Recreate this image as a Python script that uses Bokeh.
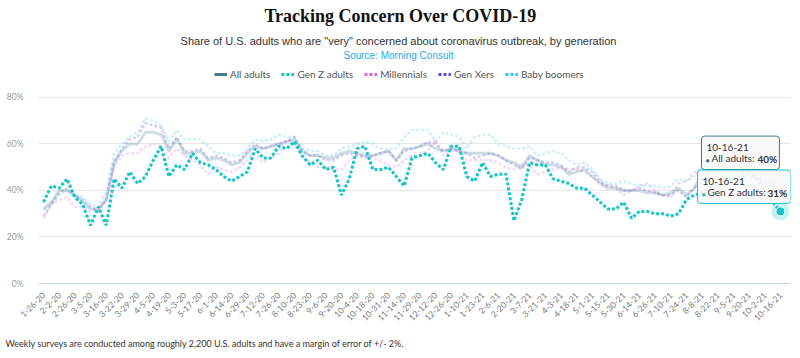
import math
from bokeh.plotting import figure
from bokeh.models import Range1d, FixedTicker, PrintfTickFormatter, Legend, LegendItem, Label, Title
from bokeh.embed import file_html
from bokeh.resources import INLINE

# ---------------- data ----------------
tick_labels = ["1-26-20", "2-2-20", "2-26-20", "3-5-20", "3-16-20", "3-22-20", "3-29-20", "4-5-20",
               "4-19-20", "5-3-20", "5-17-20", "6-1-20", "6-14-20", "6-29-20", "7-12-20", "7-26-20",
               "8-10-20", "8-23-20", "9-6-20", "9-20-20", "10-4-20", "10-18-20", "10-31-20", "11-14-20",
               "11-29-20", "12-12-20", "12-26-20", "1-10-21", "1-23-21", "2-6-21", "2-20-21", "3-7-21",
               "3-21-21", "4-3-21", "4-18-21", "5-1-21", "5-15-21", "5-30-21", "6-14-21", "6-26-21",
               "7-10-21", "7-24-21", "8-8-21", "8-22-21", "9-5-21", "9-20-21", "10-2-21", "10-16-21"]

all_adults = [32, 35, 40, 40, 38, 35, 32, 32, 36, 52, 57, 60, 60, 65, 65, 64, 57, 62, 56, 56,
              57, 53, 54, 53, 51, 52, 56, 59, 58, 59, 60, 61, 62, 57, 55, 55, 54, 54, 56, 57,
              56, 55, 55, 56, 57, 53, 58, 58, 59, 60, 58, 57, 58, 57, 56, 56, 56, 56, 55, 53,
              52, 50, 55, 53, 51, 51, 50, 47, 48, 49, 46, 43, 41, 41, 40, 40, 40, 39, 39, 38,
              39, 41, 38, 41, 47, 50, 51, 50, 51, 50, 48, 46, 44, 42, 40]

gen_z = [35, 42, 41, 45, 37, 34, 25, 33, 25, 45, 41, 48, 43, 46, 53, 59, 46, 51, 49, 56,
         52, 51, 49, 46, 44, 46, 48, 58, 54, 54, 59, 58, 61, 55, 51, 53, 49, 50, 38, 45,
         58, 59, 49, 49, 50, 46, 42, 54, 55, 56, 52, 49, 59, 59, 46, 44, 52, 46, 47, 47,
         27, 36, 52, 51, 51, 45, 44, 43, 41, 41, 38, 35, 32, 32, 35, 28, 31, 31, 30, 30,
         29, 30, 36, 38, 39, 41, 43, 44, 45, 46, 47, 45, 40, 35, 31]

millennials = [28, 34, 36, 37, 33, 33, 31, 32, 36, 50, 55, 56, 56, 59, 60, 59, 54, 58, 55, 53,
               51, 47, 50, 49, 48, 50, 53, 56, 52, 54, 56, 62, 60, 54, 52, 50, 50, 49, 49, 53,
               55, 55, 54, 53, 51, 50, 53, 55, 56, 57, 62, 55, 58, 57, 53, 53, 53, 53, 52, 50,
               49, 51, 51, 47, 48, 49, 50, 49, 49, 48, 46, 43, 42, 41, 38, 40, 42, 43, 40, 38,
               37, 43, 44, 48, 48, 46, 45, 45, 44, 42, 40, 38, 37, 36, 35]

gen_x = [29, 34, 39, 41, 38, 36, 33, 31, 36, 52, 58, 62, 63, 69, 68, 67, 58, 63, 57, 57,
         58, 54, 55, 54, 52, 53, 57, 60, 58, 59, 60, 61, 63, 57, 55, 55, 53, 53, 55, 56,
         55, 54, 55, 56, 57, 53, 57, 58, 59, 61, 60, 57, 58, 57, 56, 54, 55, 56, 55, 53,
         51, 49, 54, 53, 52, 52, 51, 48, 50, 50, 48, 44, 42, 42, 40, 40, 41, 40, 39, 38,
         38, 40, 37, 41, 45, 48, 49, 48, 49, 48, 46, 45, 44, 42, 41]

boomers = [32, 34, 38, 40, 38, 37, 34, 33, 40, 56, 60, 63, 65, 71, 70, 68, 61, 66, 62, 62,
           62, 59, 56, 56, 55, 55, 58, 62, 61, 62, 64, 63, 63, 58, 57, 57, 55, 55, 58, 59,
           60, 61, 60, 58, 58, 58, 63, 66, 66, 66, 61, 65, 64, 63, 58, 63, 64, 64, 60, 59,
           58, 58, 59, 55, 56, 57, 56, 53, 51, 52, 49, 45, 43, 43, 44, 43, 42, 42, 42, 41,
           42, 45, 44, 46, 50, 52, 54, 53, 54, 53, 51, 49, 46, 44, 42]

series_names = ["All adults", "Gen Z adults", "Millennials", "Gen Xers", "Baby boomers"]
series_values = [all_adults, gen_z, millennials, gen_x, boomers]

title_text = "Tracking Concern Over COVID-19"
subtitle_text = 'Share of U.S. adults who are "very" concerned about coronavirus outbreak, by generation'
source_text = "Source: Morning Consult"
footer_text = "Weekly surveys are conducted among roughly 2,200 U.S. adults and have a margin of error of +/- 2%."

# ---------------- styles ----------------
colors = ["#3f7b88", "#14c6c8", "#d866e0", "#5a50e0", "#36c2f2"]
dashes = ["solid", "3 2", "3 2", "3 2", "3 2"]
FONT = "Lato"

x = list(range(len(gen_z)))
tick_pos = x[::2]
overrides = {t: lab for t, lab in zip(tick_pos, tick_labels)}

# frame: left 38, right 790, top 0, bottom 283 (0% line); 80% at y=97
p = figure(width=800, height=358, output_backend="svg", toolbar_location=None,
           x_range=Range1d(-0.64, 95.28), y_range=Range1d(0, 121.7),
           min_border_left=38, min_border_right=10, min_border_top=0, min_border_bottom=75)
p.outline_line_color = None
p.background_fill_color = "white"
p.border_fill_color = "white"

p.xgrid.grid_line_color = None
p.ygrid.grid_line_color = "#e6e6e6"
p.ygrid.grid_line_width = 1

p.yaxis.ticker = FixedTicker(ticks=[0, 20, 40, 60, 80])
p.yaxis.formatter = PrintfTickFormatter(format="%d%%")
p.yaxis.axis_line_color = None
p.yaxis.major_tick_line_color = None
p.yaxis.minor_tick_line_color = None
p.yaxis.major_label_text_font = FONT
p.yaxis.major_label_text_font_size = "8.5px"
p.yaxis.major_label_text_color = "#999999"
p.yaxis.major_label_standoff = 9

p.xaxis.ticker = FixedTicker(ticks=tick_pos)
p.xaxis.major_label_overrides = overrides
p.xaxis.major_label_orientation = math.pi / 4
p.xaxis.axis_line_color = "#ccd6eb"
p.xaxis.major_tick_line_color = None
p.xaxis.minor_tick_line_color = None
p.xaxis.major_label_text_font = FONT
p.xaxis.major_label_text_font_size = "8.5px"
p.xaxis.major_label_text_color = "#777777"
p.xaxis.major_label_standoff = 4

# faded (inactive) series first, Gen Z on top
for i in [0, 2, 3, 4]:
    p.line(x, series_values[i], line_color=colors[i], line_width=3 if i == 0 else 2.5,
           line_alpha=0.25, line_dash=dashes[i], line_cap="butt", line_join="round")
p.line(x, gen_z, line_color=colors[1], line_width=3, line_dash=dashes[1], line_cap="butt")

# legend proxies (full colour, hidden)
items = []
for name, vals, c, d in zip(series_names, series_values, colors, dashes):
    r = p.line(x, vals, line_color=c, line_width=3, line_dash=d, visible=False)
    items.append(LegendItem(label=name, renderers=[r]))
legend = Legend(items=items, orientation="horizontal", location=(176, 203),
                spacing=11, label_standoff=3, glyph_width=13, glyph_height=12, label_height=12,
                padding=0, margin=0, border_line_alpha=0, background_fill_alpha=0,
                inactive_fill_alpha=0, label_text_font=FONT, label_text_font_size="10px",
                label_text_color="#555555")
p.add_layout(legend, "center")

# hover highlight on last Gen Z point
last = x[-1]
p.scatter([last], [gen_z[-1]], size=18, fill_color=colors[1], fill_alpha=0.25, line_color=None)
p.scatter([last], [gen_z[-1]], size=9, fill_color=colors[1], line_color="white", line_width=1)

# tooltips
def tooltip(yval, name, col, dx, dy, vdx, vdy):
    box = Label(x=last, y=yval, x_offset=dx, y_offset=dy,
                text=tick_labels[-1] + "\n\u2002" + name + ":" + "\u2002" * 4,
                text_align="left", text_baseline="bottom", text_font=FONT,
                text_font_size="10px", text_color="#333333", text_line_height=0.95,
                background_fill_color="#f8f8f8", background_fill_alpha=0.92,
                border_line_color=col, border_line_width=1, padding=5, border_radius=3)
    p.add_layout(box)
    p.add_layout(Label(x=last, y=yval, x_offset=dx + 4, y_offset=vdy + 1, text="\u25cf",
                       text_align="left", text_baseline="bottom", text_font=FONT,
                       text_font_size="7px", text_color=col))
    p.add_layout(Label(x=last, y=yval, x_offset=vdx, y_offset=vdy, text=f"{yval}%",
                       text_align="left", text_baseline="bottom", text_font=FONT,
                       text_font_size="10px", text_font_style="bold", text_color="#333333"))

tooltip(all_adults[-1], series_names[0], colors[0], -79, 21, -23, 25)
tooltip(gen_z[-1], series_names[1], colors[1], -83, 8, -13, 12)

# titles (screen units relative to plot frame)
def text_label(xs, ys, txt, font, size, color, style="normal", align="center"):
    p.add_layout(Label(x=xs, y=ys, x_units="screen", y_units="screen", text=txt,
                       text_font=font, text_font_size=size, text_color=color,
                       text_font_style=style, text_align=align, text_baseline="middle"))

text_label(362, 268, title_text, "Liberation Serif", "18px", "#111111", style="bold")
text_label(360, 243, subtitle_text, "Liberation Sans", "11px", "#333333")
text_label(360, 228, source_text, "Liberation Sans", "10px", "#2aa7df")

footer = Title(text=footer_text, align="left", offset=-33, standoff=19,
               text_font=FONT, text_font_size="9px", text_color="#333333",
               text_font_style="normal")
p.add_layout(footer, "below")

open("out.html", "w").write(file_html(p, INLINE))
